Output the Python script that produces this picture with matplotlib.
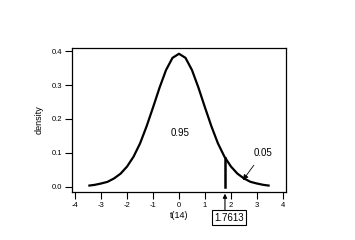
import matplotlib
matplotlib.use("Agg")
import matplotlib.pyplot as plt

plt.rcParams['font.family'] = ['Liberation Sans', 'DejaVu Sans']

# t(14) density
t_vals = [-3.45, -3.25, -3.0, -2.75, -2.5, -2.25, -2.0, -1.75, -1.5, -1.25, -1.0,
          -0.75, -0.5, -0.25, 0.0, 0.25, 0.5, 0.75, 1.0, 1.25, 1.5, 1.75, 2.0,
          2.25, 2.5, 2.75, 3.0, 3.25, 3.45]
density = [0.004, 0.006, 0.010, 0.015, 0.025, 0.039, 0.060, 0.089, 0.128, 0.178, 0.234,
           0.292, 0.344, 0.380, 0.392, 0.380, 0.344, 0.292, 0.234, 0.178, 0.128, 0.089, 0.060,
           0.039, 0.025, 0.015, 0.010, 0.006, 0.004]
critical = 1.7613
crit_density = 0.084
area_center = "0.95"
area_tail = "0.05"
x_ticks = [-4, -3, -2, -1, 0, 1, 2, 3, 4]
y_ticks = [0.0, 0.1, 0.2, 0.3, 0.4]

fig = plt.figure(figsize=(3.55, 2.4), dpi=100)
ax = fig.add_axes([72/355, 1-192/240, 214/355, 144/240])
ax.plot(t_vals, density, color='black', lw=1.6)
ax.plot([critical, critical], [0.0, crit_density], color='black', lw=1.8)

ax.set_xlim(-4.12, 4.12)
ax.set_ylim(-0.015, 0.409)
ax.set_xticks(x_ticks)
ax.set_yticks(y_ticks)
ax.set_xticklabels([str(v) for v in x_ticks])
ax.set_yticklabels([f"{v:.1f}" for v in y_ticks])
ax.tick_params(direction='out', length=5, width=0.8, labelsize=5.5, pad=2)
for s in ax.spines.values():
    s.set_linewidth(0.9)

ax.set_xlabel("t(14)", fontsize=6.5, labelpad=2)
ax.set_ylabel("density", fontsize=6.5, labelpad=6)

ax.text(0.05, 0.16, area_center, fontsize=7, ha='center', va='center')
ax.annotate(area_tail, xy=(2.46, 0.02), xytext=(3.23, 0.1), fontsize=7,
            ha='center', va='center',
            arrowprops=dict(arrowstyle='-|>', lw=0.6, color='black',
                            mutation_scale=8, shrinkA=4, shrinkB=0))
ax.text(1.92, -0.091, f"{critical:.4f}", fontsize=7, ha='center', va='center',
        clip_on=False,
        bbox=dict(boxstyle='square,pad=0.25', fc='white', ec='black', lw=0.8))
ax.annotate("", xy=(1.77, -0.020), xytext=(1.77, -0.067), annotation_clip=False,
            arrowprops=dict(arrowstyle='-|>', lw=0.8, color='black',
                            mutation_scale=6, shrinkA=0, shrinkB=0))

fig.savefig("out.png", dpi=100)
